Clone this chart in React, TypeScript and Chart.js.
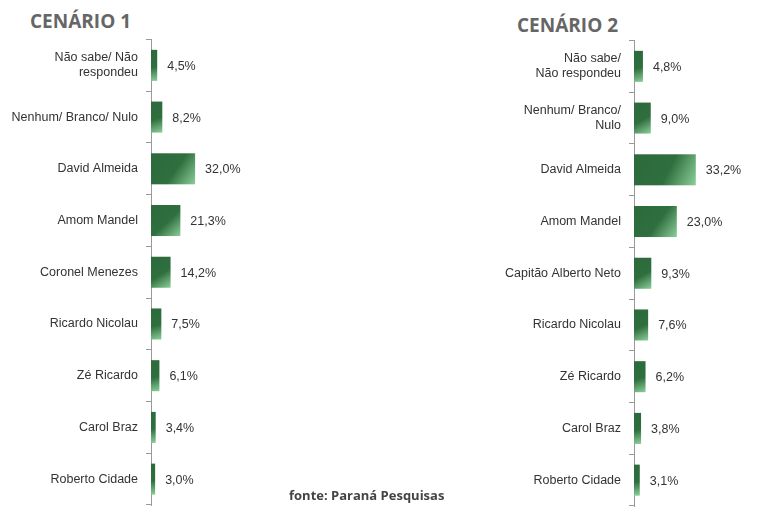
import React, { useEffect, useRef } from "react";
import { Chart, registerables } from "chart.js";
Chart.register(...registerables);

const labels1: (string | string[])[] = [["Não sabe/ Não", "respondeu"], "Nenhum/ Branco/ Nulo", "David Almeida", "Amom Mandel", "Coronel Menezes", "Ricardo Nicolau", "Zé Ricardo", "Carol Braz", "Roberto Cidade"];
const values1 = [4.5, 8.2, 32.0, 21.3, 14.2, 7.5, 6.1, 3.4, 3.0];
const labels2: (string | string[])[] = [["Não sabe/", "Não respondeu"], ["Nenhum/ Branco/", "Nulo"], "David Almeida", "Amom Mandel", "Capitão Alberto Neto", "Ricardo Nicolau", "Zé Ricardo", "Carol Braz", "Roberto Cidade"];
const values2 = [4.8, 9.0, 33.2, 23.0, 9.3, 7.6, 6.2, 3.8, 3.1];

const barPlugin = {
  id: "barDeco",
  afterDatasetsDraw(chart: any) {
    const ctx = chart.ctx;
    const meta = chart.getDatasetMeta(0);
    meta.data.forEach((bar: any, i: number) => {
      const x0 = bar.base, x1 = bar.x, y0 = bar.y - bar.height / 2, y1 = bar.y + bar.height / 2;
      const g = ctx.createLinearGradient(x0, y0, x1, y1);
      g.addColorStop(0, "#2c6a3b");
      g.addColorStop(0.55, "#2f6e3e");
      g.addColorStop(1, "#8ccf9a");
      ctx.save();
      ctx.fillStyle = g;
      ctx.fillRect(x0, y0, x1 - x0, y1 - y0);
      ctx.fillStyle = "#333";
      ctx.font = "12.5px 'Liberation Sans', Arial";
      ctx.textBaseline = "middle";
      const v = chart.data.datasets[0].data[i];
      ctx.fillText(v.toFixed(1).replace(".", ",") + "%", x1 + 10, bar.y + 1);
      ctx.restore();
    });
  },
};

function Bars({ labels, values, axisW, max, style }: any) {
  const ref = useRef<HTMLCanvasElement>(null);
  useEffect(() => {
    const c = new Chart(ref.current!, {
      type: "bar",
      data: { labels, datasets: [{ data: values, backgroundColor: "rgba(0,0,0,0)", barPercentage: 0.6, categoryPercentage: 1 }] },
      options: {
        indexAxis: "y",
        animation: false,
        responsive: false,
        layout: { padding: 0 },
        plugins: { legend: { display: false }, tooltip: { enabled: false } },
        scales: {
          x: { display: false, min: 0, max },
          y: {
            afterFit: (s: any) => { s.width = axisW; },
            border: { display: true, color: "#999" },
            grid: { drawOnChartArea: false, drawTicks: true, tickLength: 5, offset: true, color: "#999" },
            ticks: { color: "#333", font: { family: "'Liberation Sans', Arial", size: 12.5 }, padding: 8 },
          },
        },
      },
      plugins: [barPlugin],
    } as any);
    return () => c.destroy();
  }, []);
  return <canvas ref={ref} width={384} height={style.height} style={{ position: "absolute", ...style }} />;
}

export default function App() {
  const t: React.CSSProperties = { position: "absolute", fontFamily: "'Open Sans', 'Liberation Sans', Arial", fontWeight: "bold", fontSize: 19, color: "#666" };
  return (
    <div style={{ position: "fixed", left: 0, top: 0, width: 768, height: 512, background: "#fff" }}>
      <div style={{ ...t, left: 30, top: 8 }}>CENÁRIO 1</div>
      <div style={{ ...t, left: 517, top: 12 }}>CENÁRIO 2</div>
      <Bars labels={labels1} values={values1} axisW={151} max={169} style={{ left: 0, top: 24, height: 504 }} />
      <Bars labels={labels2} values={values2} axisW={250} max={72} style={{ left: 384, top: 25, height: 504 }} />
      <div style={{ ...t, fontSize: 13, color: "#444", left: 289, top: 486 }}>fonte: Paraná Pesquisas</div>
    </div>
  );
}
